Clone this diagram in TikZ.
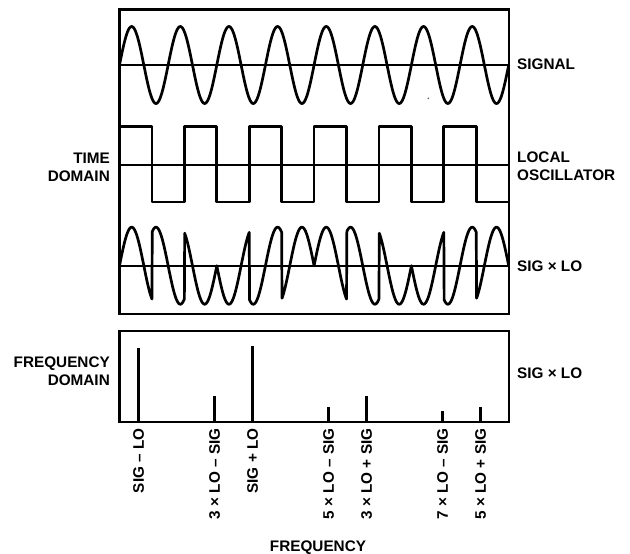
\documentclass[tikz,border=0pt]{standalone}
\usepackage{fontspec}
\setmainfont{Liberation Sans}
\begin{document}
\begin{tikzpicture}[x=1pt,y=-1pt,
  frame/.style={line width=2.2pt},
  wave/.style={line width=2.7pt, line join=round},
  axisline/.style={line width=2pt},
  spike/.style={line width=2.2pt},
  lbl/.style={font=\bfseries\fontsize{15.3}{18}\selectfont, inner sep=0pt},
  flbl/.style={lbl, rotate=90, anchor=east}]
\useasboundingbox (0,0) rectangle (630,554);
% frames
\draw[frame] (119.5,9.5) rectangle (508.7,314.3);
\draw[frame] (119.5,330.7) rectangle (508.7,421.7);
% axes
\draw[axisline] (119.5,65) -- (508.7,65);
\draw[axisline] (119.5,165) -- (508.7,165);
\draw[axisline] (119.5,265.7) -- (508.7,265.7);
% signal
\draw[wave] plot[domain=0:389.2, samples=500, smooth] ({119.5+\x},{65-38.5*sin(7.4*\x)});
% local oscillator
\draw[wave] (119.5,126.7)
  \foreach \k in {0,...,4} { -- ++(32.433,0) -- ++(0,75.3) -- ++(32.433,0) -- ++(0,-75.3) }
  -- ++(32.433,0) -- ++(0,75.3) -- ++(32.433,0);
% product
\draw[wave] plot[domain=0:389.2, samples=1201]
  ({119.5+\x},{265.7-38.5*(1-2*mod(floor(\x/32.433),2))*sin(7.4*\x)});
% stray dot
\fill[black!60] (428.3,98.3) circle (0.9);
% spectrum
\foreach \f/\t/\n in {2/347.7/a,10/396/b,14/345.7/c,22/406.7/d,26/396/e,34/410.7/f,38/406.7/g}{
  \coordinate (top\n) at ({119.5+9.5*\f},\t);
  \coordinate (bot\n) at ({119.5+9.5*\f},421.7);
  \draw[spike] (bot\n) -- (top\n);
}
% right labels
\node[lbl, anchor=base west] (lsig) at (517,69.3) {SIGNAL};
\node[lbl, anchor=north west, align=left] (llo) at (517,151.7) {LOCAL\\OSCILLATOR};
\node[lbl, anchor=base west] (lprod1) at (517,271.7) {SIG × LO};
\node[lbl, anchor=base west] (lprod2) at (517,378.3) {SIG × LO};
% left labels
\node[lbl, anchor=north east, align=right] (ltime) at (110,152.7) {TIME\\DOMAIN};
\node[lbl, anchor=north east, align=right] (lfreq) at (110,356.7) {FREQUENCY\\DOMAIN};
% frequency labels
\node[flbl] (fa) at (138.5,428.3) {SIG – LO};
\node[flbl] (fb) at (214.5,428.3) {3 × LO – SIG};
\node[flbl] (fc) at (252.5,428.3) {SIG + LO};
\node[flbl] (fd) at (328.5,428.3) {5 × LO – SIG};
\node[flbl] (fe) at (366.5,428.3) {3 × LO + SIG};
\node[flbl] (ff) at (442.5,428.3) {7 × LO – SIG};
\node[flbl] (fg) at (480.5,428.3) {5 × LO + SIG};
\node[lbl, anchor=base] (lfrequency) at (318,551.5) {FREQUENCY};
\end{tikzpicture}
\end{document}
